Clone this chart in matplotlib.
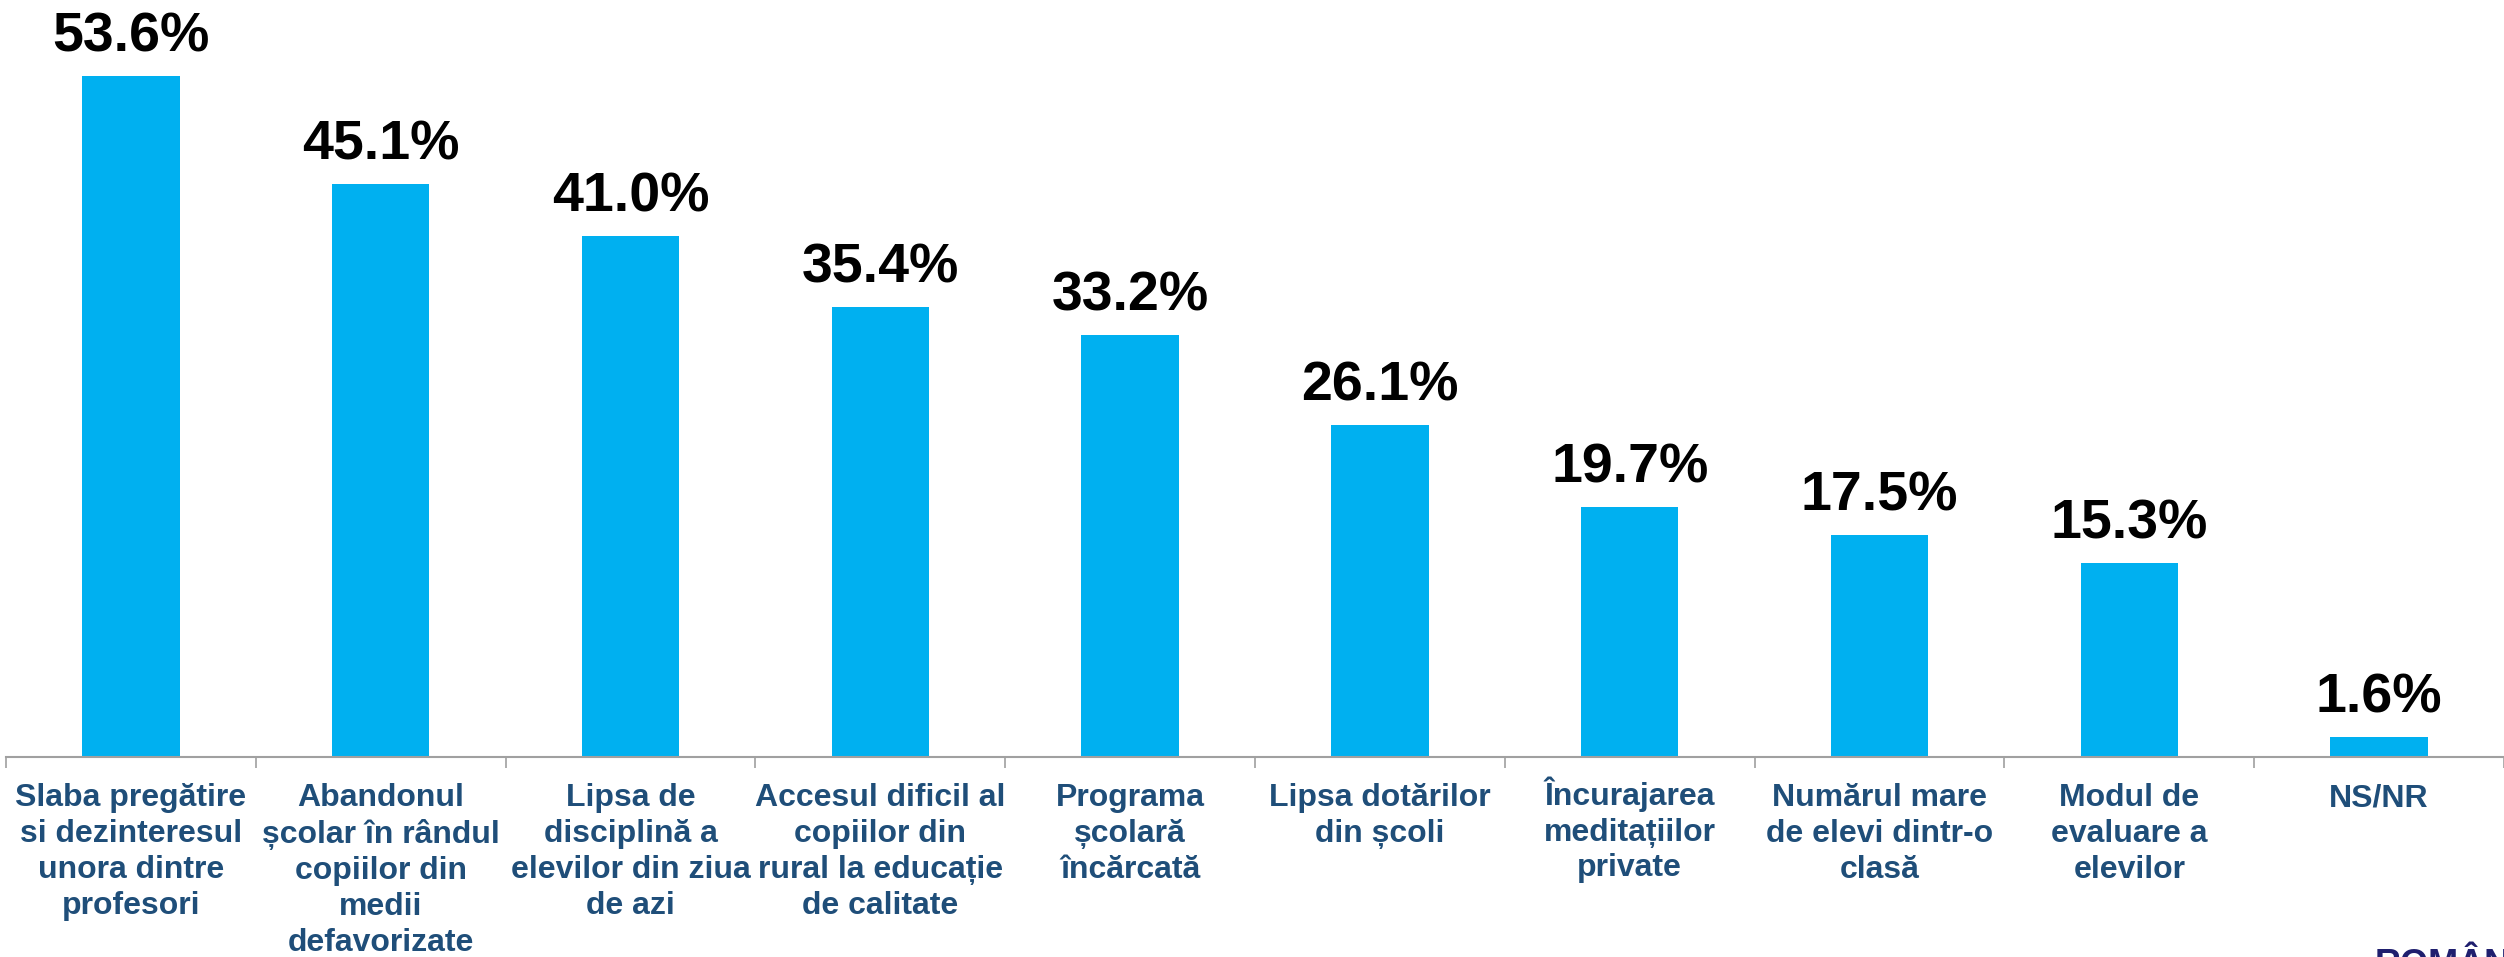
import numpy as np
import matplotlib.pyplot as plt
import matplotlib.transforms as mtransforms

categories = [
    "Slaba pregătire\nsi dezinteresul\nunora dintre\nprofesori",
    "Abandonul\nșcolar în rândul\ncopiilor din\nmedii\ndefavorizate",
    "Lipsa de\ndisciplină a\nelevilor din ziua\nde azi",
    "Accesul dificil al\ncopiilor din\nrural la educație\nde calitate",
    "Programa\nșcolară\nîncărcată",
    "Lipsa dotărilor\ndin școli",
    "Încurajarea\nmeditațiilor\nprivate",
    "Numărul mare\nde elevi dintr-o\nclasă",
    "Modul de\nevaluare a\nelevilor",
    "NS/NR",
]
values = [53.6, 45.1, 41.0, 35.4, 33.2, 26.1, 19.7, 17.5, 15.3, 1.6]

W, H = 2504, 957
fig = plt.figure(figsize=(W / 100, H / 100), dpi=100)
ax = fig.add_axes([6 / W, 1 - 757 / H, 1 - 6 / W, 757 / H])

x = np.arange(len(values))
ax.bar(x, values, width=0.39, color="#00B0F0", zorder=2)

for xi, v in zip(x, values):
    ax.annotate(f"{v:.1f}%", (xi, v), xytext=(0, 9), textcoords="offset points",
                ha="center", va="bottom", fontsize=40, fontweight="bold",
                family="Liberation Sans", color="black")

ax.set_xlim(-0.5, len(values) - 0.5)
ax.set_ylim(0, 59.6)
ax.set_yticks([])
for s in ["top", "right", "left"]:
    ax.spines[s].set_visible(False)
ax.spines["bottom"].set_color("#A0A0A0")
ax.spines["bottom"].set_linewidth(1.5)

ax.set_xticks(x)
ax.set_xticklabels(categories, fontsize=23, fontweight="bold", color="#1F4E79",
                   family="Liberation Sans", linespacing=1.25)
ax.tick_params(axis="x", which="major", length=0, pad=19)
ax.set_xticks(np.arange(-0.5, len(values)), minor=True)
ax.tick_params(axis="x", which="minor", length=8, width=1.2, color="#A0A0A0")

# labels starting with a capital accent sit lower with va=top, lift them back
for tick, lab in zip(ax.xaxis.get_major_ticks(), categories):
    if lab[0] in "ÎÂ":
        t = tick.label1
        t.set_transform(t.get_transform() +
                        mtransforms.ScaledTranslation(0, 7 / 100, fig.dpi_scale_trans))

fig.text(2375 / W, 1 - 948 / H, "ROMÂNIA", ha="left", va="top", fontsize=26,
         fontweight="bold", color="#1F1F6E", family="Liberation Sans")

fig.savefig("out.png", dpi=100)
